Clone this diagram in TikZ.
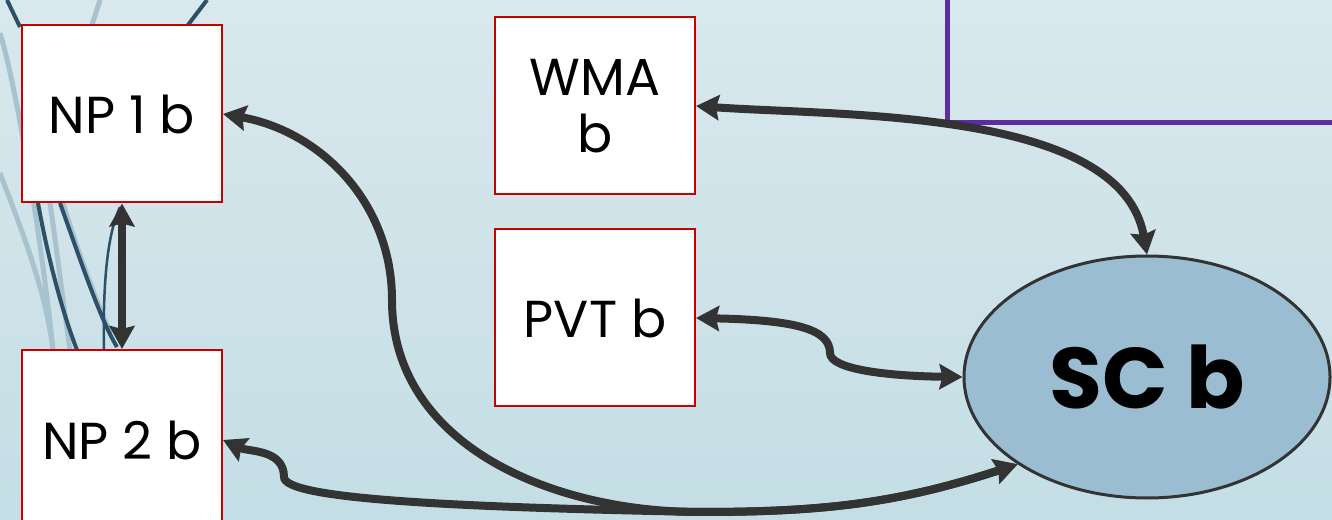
\documentclass[tikz,border=0pt]{standalone}
\usepackage{fontspec}
\setmainfont{Poppins}
\usetikzlibrary{arrows.meta,shapes.geometric}

\definecolor{bgtop}{RGB}{217,232,237}
\definecolor{bgbot}{RGB}{196,222,229}
\definecolor{hubfill}{RGB}{155,189,209}
\definecolor{boxred}{RGB}{200,0,0}
\definecolor{framepurple}{RGB}{92,45,158}
\definecolor{linkgray}{RGB}{51,51,51}
\definecolor{decodark}{RGB}{44,80,104}
\definecolor{decolight}{RGB}{168,195,207}

\begin{document}
\begin{tikzpicture}[x=1pt,y=1pt,
  box/.style={draw=boxred,line width=2pt,fill=white,minimum width=200pt,minimum height=177pt,
    font=\fontsize{52}{57}\selectfont,align=center,inner sep=0pt},
  hub/.style={ellipse,draw=linkgray,line width=3pt,fill=hubfill,minimum width=366pt,minimum height=242pt,
    font=\fontsize{86}{96}\selectfont\bfseries,inner sep=0pt},
  link/.style={draw=linkgray,line width=8pt,
    {Stealth[length=23pt,width=25pt,inset=3pt]}-{Stealth[length=23pt,width=25pt,inset=3pt]}}]

  \def\W{1332} \def\H{519}

  % Background
  \clip (0,0) rectangle (\W,\H);
  \shade [top color=bgtop,bottom color=bgbot] (0,0) rectangle (\W,\H);

  % Strands on the left edge
  \draw [decolight,line width=5pt] (0,486) .. controls (20,420) and (45,250) .. (53,169)
    (0,346) .. controls (25,280) and (45,230) .. (53,169)
    (50,316) .. controls (58,260) and (64,210) .. (70,169)
    (63,316) .. controls (80,260) and (100,210) .. (110,186)
    (100,519) -- (92,494);
  \draw [decodark,line width=4pt] (7,519) -- (20,492)
    (38,316) .. controls (50,250) and (65,200) .. (77,169)
    (60,316) .. controls (80,260) and (100,200) .. (117,172)
    (207,519) -- (188,494);
  \draw [decodark,line width=2.5pt] (120,312) .. controls (105,280) and (103,220) .. (104,169);

  % Frame in the corner
  \draw [framepurple,line width=5pt] (947,540) |- (1350,396);

  % Nodes
  \node [box] (NP1) at (122,405) {NP 1 b};
  \node [box,minimum height=180pt] (NP2) at (122,79) {NP 2 b};
  \node [box] (WMA) at (595,413) {WMA\\b};
  \node [box] (PVT) at (595,201) {PVT b};
  \node [hub] (SC) at (1147,142) {SC b};

  % Arrows
  \coordinate (pvtbend) at (830,166);
  \coordinate (np1turn) at (392,219);
  \coordinate (np2kink) at (284,42);
  \coordinate (low) at (700,7);

  \draw [link] (NP1.south) -- (NP2.north);
  \draw [link] (WMA.east) to[out=-4,in=100,looseness=0.8] (SC.north);
  \draw [link] (PVT.east) .. controls (795,199) and (830,190) .. (pvtbend) .. controls (830,150) and (885,143) .. (SC.west);
  \draw [link] (NP1.east) to[out=-10,in=90] (np1turn) to[out=-90,in=180] (low) to[out=0,in=198] (SC.214);
  \draw [link] (NP2.east) to[out=-25,in=90] (np2kink) .. controls (284,20) and (450,12) .. (low) to[out=0,in=198] (SC.214);

\end{tikzpicture}
\end{document}
